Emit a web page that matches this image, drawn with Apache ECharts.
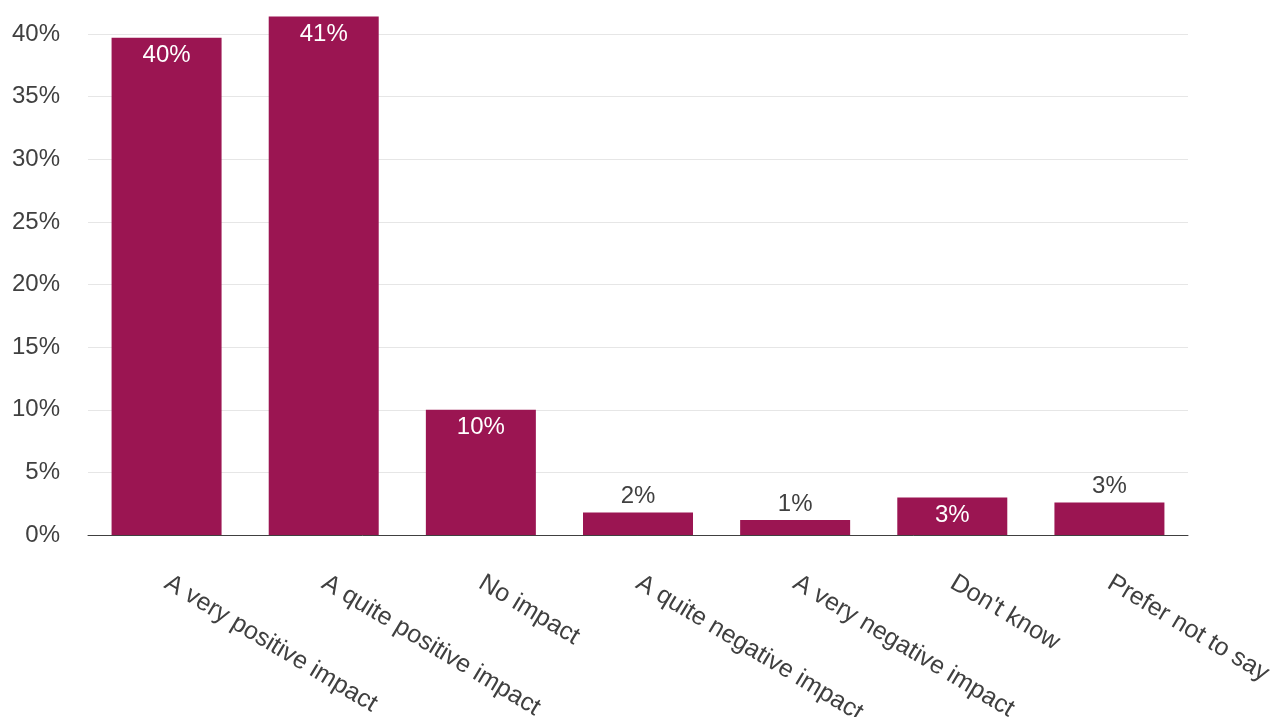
<!DOCTYPE html>
<html>
<head>
<meta charset="utf-8">
<script src="https://cdn.jsdelivr.net/npm/echarts@6/dist/echarts.min.js"></script>
<style>
  html, body { margin: 0; padding: 0; background: #fff; }
  #chart { width: 1275px; height: 717px; }
</style>
</head>
<body>
<div id="chart"></div>
<script>
const categories = [
  'A very positive impact',
  'A quite positive impact',
  'No impact',
  'A quite negative impact',
  'A very negative impact',
  "Don't know",
  'Prefer not to say'
]
const values = [39.7, 41.4, 10.0, 1.8, 1.2, 3.0, 2.6]
// labels inside the bar (true) or above it (false)
const labelInside = [true, true, true, false, false, true, false]

const barColor = '#9b1552'
const textColor = '#404040'

const chart = echarts.init(document.getElementById('chart'))

chart.setOption({
  animation: false,
  grid: { left: 88, right: 87, top: 34, bottom: 182, outerBoundsMode: 'none' },
  xAxis: {
    type: 'category',
    data: categories,
    axisTick: { show: false },
    axisLine: { lineStyle: { color: textColor, width: 1 } },
    axisLabel: {
      rotate: -31,
      interval: 0,
      margin: 46,
      color: textColor,
      fontSize: 25,
      fontFamily: 'Liberation Sans'
    }
  },
  yAxis: {
    type: 'value',
    min: 0,
    max: 40,
    interval: 5,
    axisLine: { show: false },
    axisTick: { show: false },
    splitLine: { lineStyle: { color: '#e6e6e6' } },
    axisLabel: {
      formatter: '{value}%',
      color: textColor,
      fontSize: 24,
      margin: 28,
      padding: [9, 0, 0, 0],
      fontFamily: 'Liberation Sans'
    }
  },
  series: [{
    type: 'bar',
    clip: false,
    barWidth: '70%',
    itemStyle: { color: barColor },
    data: values.map((v, i) => ({
      value: v,
      label: labelInside[i]
        ? { position: 'insideTop', color: '#fff', distance: 6 }
        : { position: 'top', color: textColor, distance: 4 }
    })),
    label: {
      show: true,
      fontSize: 24,
      fontFamily: 'Liberation Sans',
      formatter: p => Math.round(p.value) + '%'
    }
  }]
})
</script>
</body>
</html>
